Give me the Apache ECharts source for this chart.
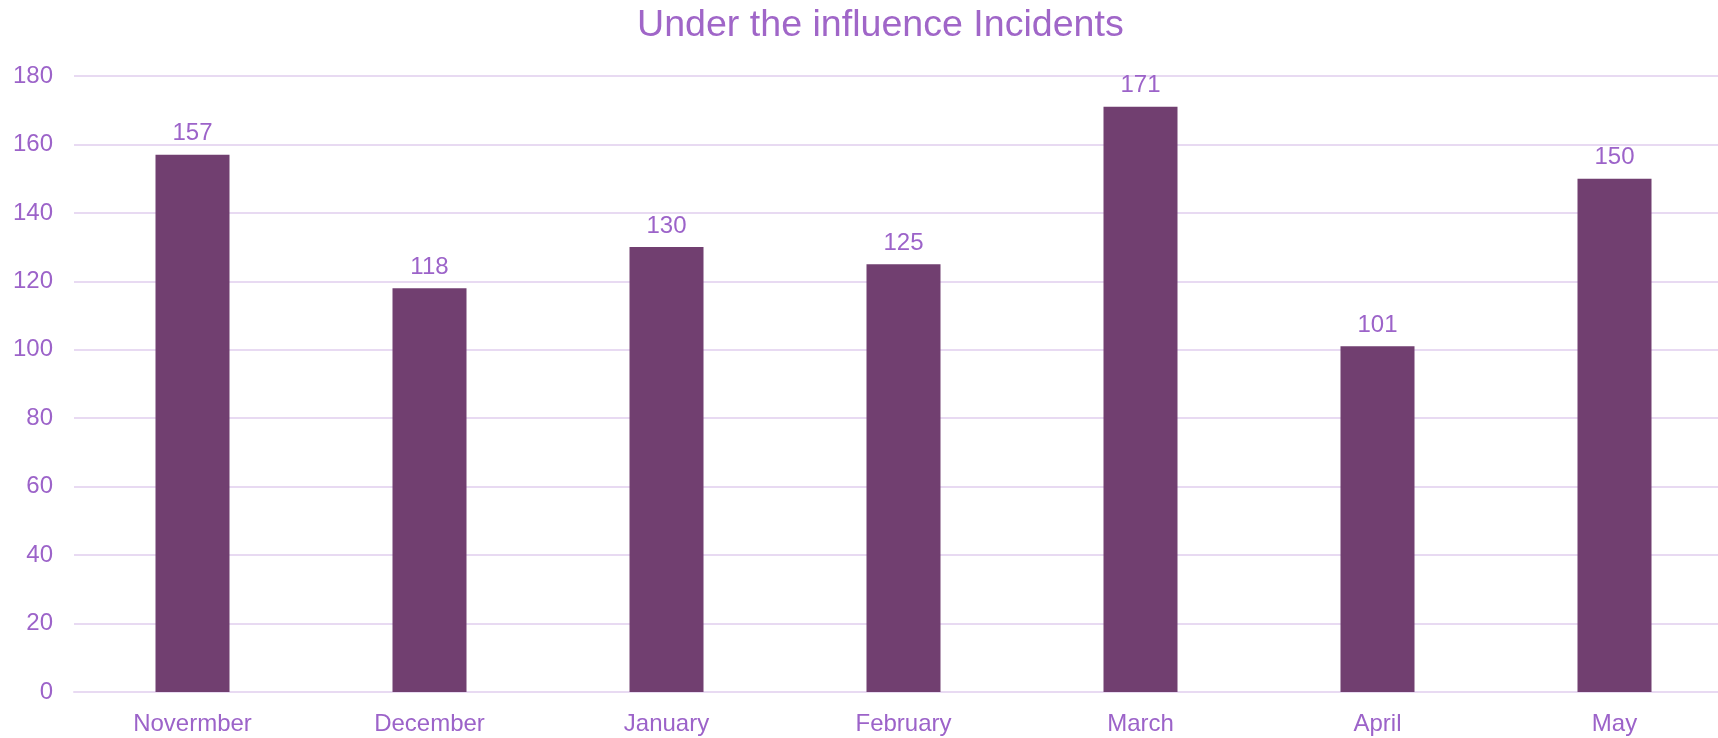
<!DOCTYPE html>
<html>
<head>
<meta charset="utf-8">
<script src="https://cdn.jsdelivr.net/npm/echarts@6/dist/echarts.min.js"></script>
<style>
html,body{margin:0;padding:0;background:#fff;}
#c{width:1718px;height:738px;}
</style>
</head>
<body>
<div id="c"></div>
<script>
const titleText = 'Under the influence Incidents';
const categories = ['Novermber', 'December', 'January', 'February', 'March', 'April', 'May'];
const incidents = [157, 118, 130, 125, 171, 101, 150];
const yTicks = [0, 20, 40, 60, 80, 100, 120, 140, 160, 180];

const labelColor = '#9c63c9';
const font = '"Liberation Sans", Arial, sans-serif';

const chart = echarts.init(document.getElementById('c'), null, {renderer: 'canvas'});
chart.setOption({
  backgroundColor: '#ffffff',
  animation: false,
  title: {
    text: titleText,
    left: 632,
    top: 2,
    textStyle: {color: '#a066c8', fontSize: 37.6, fontWeight: 'normal', fontFamily: font}
  },
  grid: {left: 74, width: 1659, top: 76, bottom: 46, containLabel: false, outerBoundsMode: 'none'},
  xAxis: {
    type: 'category',
    data: categories,
    axisTick: {show: false},
    axisLine: {show: true, lineStyle: {color: '#e8daf2', width: 2}},
    axisLabel: {color: labelColor, fontSize: 24, fontFamily: font, margin: 20}
  },
  yAxis: {
    type: 'value',
    min: yTicks[0],
    max: yTicks[yTicks.length - 1],
    interval: yTicks[1] - yTicks[0],
    axisLine: {show: false},
    axisTick: {show: false},
    splitLine: {lineStyle: {color: '#e8daf2', width: 2}},
    axisLabel: {color: labelColor, fontSize: 24, fontFamily: font, margin: 21}
  },
  series: [{
    type: 'bar',
    data: incidents,
    barWidth: 74,
    itemStyle: {color: '#713f70'},
    label: {
      show: true,
      position: 'top',
      distance: 9,
      color: labelColor,
      fontSize: 24,
      fontFamily: font
    }
  }]
});
</script>
</body>
</html>
